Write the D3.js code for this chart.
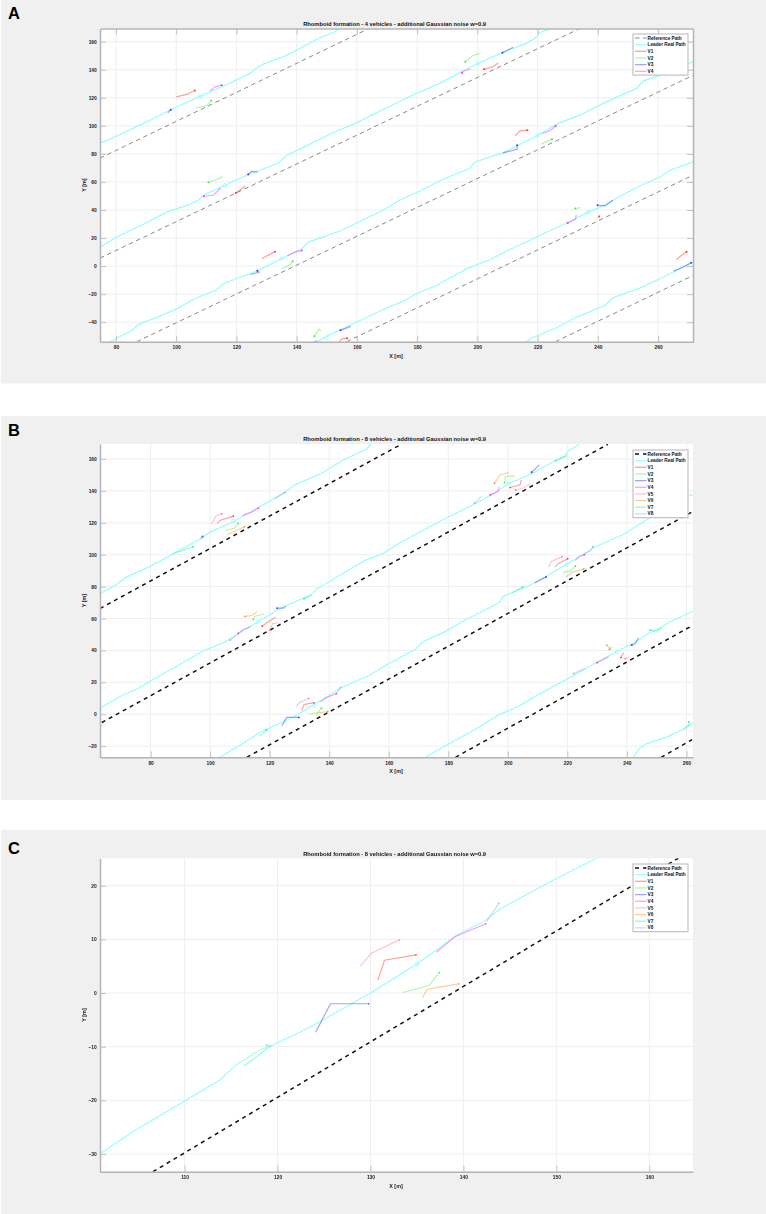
<!DOCTYPE html>
<html><head><meta charset="utf-8">
<script src="https://d3js.org/d3.v7.min.js"></script>
<style>html,body{margin:0;padding:0;background:#fff}svg{display:block;filter:blur(.3px)}text{font-family:"Liberation Sans",Arial,sans-serif}</style>
</head><body><svg id="c" width="766" height="1214"></svg>
<script>
// Panel A
const aXTicks=[80,100,120,140,160,180,200,220,240,260], aYTicks=[-40,-20,0,20,40,60,80,100,120,140,160];
const aRef=[[[74.7,77],[164,169.4]],[[74.7,5.7],[234,169.4]],[[86.9,-53.9],[271.6,136]],[[156.6,-53.9],[271.6,64.8]],[[225.9,-53.9],[271.6,-6.7]]];
const aLeader=[
[[74.7,87.4],[80.2,92.8],[90.2,102.8],[99,112.4],[107.9,121],[116.8,129.5],[124.5,137.4],[126.2,140.5],[128.9,144],[135.6,149.3],[140,154],[146.7,161.7],[152.7,167.1],[153.8,169.4]],
[[74.7,13.5],[80.2,20.7],[89.1,29.8],[96.8,38.5],[104.6,44],[107.3,46.9],[109,50.5],[116.2,57.6],[123.9,65.3],[127.8,68.3],[133.9,73.5],[136.7,79],[143.3,85.7],[152.2,95.3],[159.9,102.1],[164.4,107.1],[168.7,111.7],[179.7,123.1],[187.5,130.3],[195.3,139.3],[200.2,144.5],[208.5,152.4],[216.3,158.8],[219.1,162.4],[220.7,166.4],[224.4,169.4]],
[[78,-53.9],[85.2,-46],[87.4,-41.7],[94.6,-35.7],[100.2,-30.5],[106.8,-22.6],[113.5,-16.9],[115.7,-12.6],[119,-9.7],[126.7,-3.6],[135,5.3],[141.7,12.4],[143.9,17.1],[154.4,25],[168.7,39.8],[174.2,47],[180.9,53.5],[188.6,61.9],[197.5,69.5],[199.1,74.3],[208.5,80.7],[220.2,93.3],[226.3,101.2],[234,107.6],[241.8,116],[252.8,126.7],[255,131.9],[260.6,136.2],[271.6,145.7]],
[[146.7,-53.9],[150.5,-49.5],[154.4,-45.5],[168.7,-31],[176.4,-24],[179.7,-19.7],[186.4,-13.8],[196.4,-2],[204.1,4.5],[209.7,10.7],[219.6,20.7],[229.6,30.7],[236.8,38.5],[242.3,43.3],[245,46.9],[252.8,56],[260.6,63.5],[263.9,68.3],[271.6,74.3]],
[[216.3,-53.9],[217.9,-51.2],[220.2,-49.5],[226.3,-44],[232.9,-36.5],[242.3,-28.1],[245,-22.6],[253.9,-15.7],[260.6,-9],[271.6,2.8]]];
const aCircles=[[107.9,121],[116.2,57.6],[200.2,144.5],[220.2,93.3],[135,5.3],[150,-51],[236.8,38.5]];
// each track ends at the vehicle's head
const aV1=[[[100,120.7],[103.5,122.4],[106.2,125.2]],[[122.9,56.9],[119.8,52.1]],[[206.9,144.8],[205.2,142.1],[202.2,140.3]],[[212.6,92.8],[214,96.2],[216.6,96.9]],[[128.4,5.3],[132.8,10.3]],[[154,-53.9],[155.2,-51.7],[156.8,-51.5]],[[240.7,35.7],[240.4,35.3]],[[266.1,4.5],[267.7,7.6],[269.5,10.2]]];
const aV2=[[[106.5,112.8],[110.3,114.5],[111.6,118.1]],[[115.4,63.8],[113.5,61.7],[110.7,59.8]],[[200.8,151.7],[198.4,150],[196,145.7]],[[221,86.9],[224.8,90.5]],[[135,-1.9],[137.8,.9],[138.7,3.5]],[[148.1,-46.4],[147.4,-45],[145.9,-50]],[[234.2,41.7],[232.5,41]]];
const aV3=[[[97.2,109.3],[98.2,111.4]],[[127.2,66.9],[125,67.6],[123.9,65.3]],[[211.9,156],[208.3,152.1]],[[208.5,80.7],[213.2,83.3],[213.2,86.2]],[[124.7,-6],[127.6,-4.3],[126.9,-3.3]],[[158,-43],[154.5,-45.8]],[[245,46.9],[242.5,43.1],[239.9,43.3]],[[265.2,-3.6],[268.3,-.7],[271,2.4]]];
const aV4=[[[111.2,125],[112.9,127.8],[115.1,129]],[[114.8,55.7],[112.3,50.5],[109.2,49.8]],[[197.7,140.5],[195.3,139],[194.9,137.6]],[[221.6,94.5],[224,96.4],[226,99.9]],[[136.9,7.4],[139.5,10],[141.7,11.2]],[[147,-53],[146.1,-53.9]],[[232.8,36.7],[232.6,33.3],[230,30.7]]];
// Panel B
const bXTicks=[80,100,120,140,160,180,200,220,240,260], bYTicks=[-20,0,20,40,60,80,100,120,140,160];
const bRef=[[[63,66.3],[164.4,169.4]],[[63.6,-5.2],[233.6,169.2]],[[112.3,-27],[261.6,126.5]],[[182.4,-27],[262.2,55.8]],[[251.5,-27],[261.9,-15.9]]];
const bLeader=[
[[63,75.5],[68.6,81.3],[71.4,85.5],[79.8,92.7],[87.6,100.6],[97.2,110.5],[99.9,114],[107.8,120.8],[115.6,128.8],[124.6,138.6],[128.5,143.8],[137.4,151.1],[144.7,159.4],[152.6,166.3],[153.9,169.4]],
[[63,3.8],[69.7,11.1],[75.9,16.1],[80.4,21.3],[89.9,31.3],[97.7,39.6],[105.5,45.8],[108.9,50],[116.2,58],[122.9,65.6],[125.1,67.7],[134.1,75],[135.8,78.6],[145.8,89.6],[152.6,96.9],[158,100.6],[163.6,107.3],[178.2,121.9],[189.4,132.3],[197.2,140.6],[200,144.4],[208.4,151.1],[216.2,159.4],[219,161.5],[220.4,165.2],[224,169.2]],
[[103.3,-27],[113.4,-15.6],[116.2,-11.9],[124,-5.2],[129,-.6],[134.6,5.8],[139.7,11.4],[143.6,16.3],[153.7,24.6],[158,29.6],[169.2,41.1],[171.5,45.5],[179.3,52.1],[184.9,58.3],[192.7,65.6],[197.2,70.2],[198.3,73.6],[201.7,76.5],[206.2,79.6],[212.9,86.5],[219.6,93.8],[225.2,100],[229.6,105.2],[238.6,112.5],[247.6,123],[261,137.1],[262.2,137.5]],
[[172.4,-27],[179.3,-19.4],[188.3,-10.4],[196.7,-.6],[203.9,5.2],[208.4,10.4],[220.7,22.9],[229.6,32.3],[236.4,39.2],[242,44.4],[248.1,51.5],[251.5,54.2],[253.7,57.3],[262.2,64.6]],
[[242.2,-27],[244.2,-21.4],[246.3,-18.7],[253.2,-14.5],[258.8,-9.4],[262.2,-5.6]]];
const bCircles=[[107.8,121.3],[116,58],[200.2,144.4],[219.7,93.8],[135,5.4],[236.6,39.2]];
// Panel C (close-up of one moment)
const cXTicks=[110,120,130,140,150,160], cYTicks=[-30,-20,-10,0,10,20];
const cRef=[[[106.6,-33.3],[163.1,25.1]]];
const cLeader=[[[100.9,-30],[104.3,-26],[113.8,-16.2],[115.6,-13.3],[118.1,-10.6],[119.4,-9.8],[122.4,-7.3],[124.6,-5.3],[130,0],[135,5.4],[139.3,10.8],[142.2,13.3],[144,15.7],[149.3,20.7],[154.3,25.1]]];
const cCircles=[[135,5.4]];
const cV1=[[[130.8,2.4],[131.5,6.1],[134.9,7.1]]];
const cV2=[[[133.5,.1],[136.3,1.4],[137.4,3.8]]];
const cV3=[[[124.1,-7.3],[125.7,-2],[129.8,-2]]];
const cV4=[[[137.1,7.6],[139.1,10.5],[142.4,12.9]]];
const cV5=[[[128.9,5],[130.1,7.4],[133.1,9.9]]];
const cV6=[[[135.6,-.9],[136.1,.7],[139.5,1.7]]];
const cV7=[[[116.4,-13.6],[118.5,-10.9],[119.3,-9.8],[118.8,-9.7]]];
const cV8=[[[142.5,13.3],[143.8,16.7]]];
const bV1=[[[102.4,119.4],[103.3,121.5],[107.8,124.2]],[[122,60.8],[119,57.3],[117.5,55.2]],[[204.5,146.9],[204.1,143.8],[200.8,142.1]],[[215.9,92.3],[216.8,94.4],[220.1,97.5]],[[238.9,38.6],[238,35.5]],...cV1];
const bV2=[[[105.3,115.2],[108.3,116.7],[109.4,119.6]],[[118.2,63],[115,61.5],[114.5,59.4]],[[202.4,149.4],[199.2,149],[198.9,145.2]],[[218.5,88.6],[221.3,90.2],[222.7,93]],[[235,42.3],[234.1,40.6]],...cV2];
const bV3=[[[96.9,110],[97.5,111.5]],[[125.4,67.7],[124.6,66.5],[122.5,66.5]],[[210.6,156.3],[208,151.7]],[[209,82.3],[212.9,86.1]],[[243.9,48],[242.8,44.2],[241.6,43.3]],...cV3];
const bV4=[[[110.8,124.6],[113.9,126.7],[116.2,129.2]],[[113.6,54.8],[111.1,53.1],[109.4,50.6]],[[197.1,142.7],[196.7,139.6],[194.1,137.5]],[[222.7,96.5],[224.1,99],[225.7,100]],[[233.9,36.1],[230,32.3]],...cV4];
const bV5=[[[100.5,119.4],[102,124.4],[104,125.6]],[[122.9,57.3],[121,56.9],[120.1,52.7]],[[207.3,144.2],[205,141.7],[202.6,140.6]],[[213.7,92.1],[214.6,95.8],[218.2,98.8]],[[240.5,35.6],[239.4,34.8]],...cV5];
const bV6=[[[105.7,112.5],[111.5,117.5]],[[115.8,64.2],[113.9,61.9],[111.7,61.3]],[[200.3,151.5],[197.4,150],[195.5,144.8]],[[219.4,85.8],[221.3,88.9],[225.5,91.1]],[[234.7,40.6],[233.2,43.3]],...cV6];
const bV7=[[[87.3,100.6],[91.5,103.2],[94.3,105]],[[134.1,74.8],[131.5,72.3]],[[219.9,162.1],[216.2,159]],[[201.4,76.1],[205,79.8]],[[251.8,54.2],[249.8,52.1],[247.8,52.7]],[[259,-9.8],[260.8,-6.9],[260.8,-4.8]],...cV7];
const bV8=[[[121.8,135.2],[125.1,139]],[[108.9,49.6],[106.7,46.5]],[[191.3,136.7],[188.8,132.3]],[[225.2,100],[227.4,102.1],[228.6,105]],[[225.8,28.6],[222.1,25.5]],...cV8];

const vColors=["#ff1a1a","#22ee22","#2222ff","#ff11ff","#ff6f91","#ff8a1f","#11f08c","#8fa3e6"];
const vOpacity=[.42,.38,.42,.42,.42,.45,.42,.42];
const leaderColor="#96fdfd";
const svg=d3.select("#c");
const lineGen=(x,y)=>d3.line().x(d=>x(d[0])).y(d=>y(d[1]));

function panel(o){
  const g=svg.append("g");
  g.append("rect").attr("x",o.bg[0]).attr("y",o.bg[1]).attr("width",766-o.bg[0]).attr("height",o.bg[2]-o.bg[1]).attr("fill","#f0f0f0");
  g.append("text").attr("x",8).attr("y",o.letterY).attr("font-size",16.5).attr("font-weight",700).attr("fill","#000").text(o.letter);
  const L=100,R=693,T=o.top,B=o.bottom;
  g.append("rect").attr("x",L).attr("y",T).attr("width",R-L).attr("height",B-T).attr("fill","#fff");
  const x=d3.scaleLinear().domain(o.xd).range([L,R]), y=d3.scaleLinear().domain(o.yd).range([B,T]);
  // grid
  g.append("g").selectAll("line").data(o.xt).join("line").attr("x1",d=>x(d)).attr("x2",d=>x(d)).attr("y1",T).attr("y2",B).attr("stroke","#efefef");
  g.append("g").selectAll("line").data(o.yt).join("line").attr("y1",d=>y(d)).attr("y2",d=>y(d)).attr("x1",L).attr("x2",R).attr("stroke","#efefef");
  // clipped marks
  const id="clip"+o.letter;
  g.append("clipPath").attr("id",id).append("rect").attr("x",L).attr("y",T).attr("width",R-L).attr("height",B-T);
  const m=g.append("g").attr("clip-path",`url(#${id})`);
  const ln=lineGen(x,y);
  m.selectAll(".ref").data(o.ref).join("path").attr("d",ln).attr("fill","none").attr("stroke",o.refColor).attr("stroke-width",o.refW).attr("stroke-dasharray",o.refDash);
  m.selectAll(".lead").data(o.leader).join("path").attr("d",ln).attr("fill","none").attr("stroke",leaderColor).attr("stroke-width",o.leadW);
  o.tracks.forEach((tr,i)=>{
    const t=m.append("g");
    t.selectAll("path").data(tr).join("path").attr("d",ln).attr("fill","none").attr("stroke",vColors[i]).attr("stroke-opacity",vOpacity[i]).attr("stroke-width",o.trackW);
    t.selectAll("circle").data(tr).join("circle").attr("cx",d=>x(d[d.length-1][0])).attr("cy",d=>y(d[d.length-1][1])).attr("r",o.dot).attr("fill",vColors[i]).attr("fill-opacity",.85);
  });
  m.selectAll(".lc").data(o.circles).join("circle").attr("cx",d=>x(d[0])).attr("cy",d=>y(d[1])).attr("r",1.7).attr("fill","none").attr("stroke",leaderColor).attr("stroke-width",.9);
  // axes
  const style=a=>{a.select(".domain").attr("stroke","#b4b4b4").attr("stroke-width",1.5);a.selectAll(".tick line").attr("stroke","#bbb").attr("stroke-width",.9);
    a.selectAll("text").attr("font-size",4.9).attr("font-weight",700).attr("fill","#222").attr("font-family","'Liberation Sans',Arial,sans-serif");};
  const ax=g.append("g").attr("transform",`translate(0,${B})`).call(d3.axisBottom(x).tickValues(o.xt).tickFormat(d3.format("d")).tickSizeInner(-6).tickSizeOuter(0)).call(style);
  ax.selectAll("text").attr("y",6).attr("dy","0.32em");
  const ay=g.append("g").attr("transform",`translate(${L},0)`).call(d3.axisLeft(y).tickValues(o.yt).tickFormat(d3.format("d")).tickSizeInner(-6).tickSizeOuter(0)).call(style);
  ay.selectAll("text").attr("x",-3.2);
  if(o.box){
    g.append("g").attr("transform",`translate(0,${T})`).call(d3.axisTop(x).tickValues(o.xt).tickFormat("").tickSizeInner(-6).tickSizeOuter(0)).call(style);
    g.append("g").attr("transform",`translate(${R},0)`).call(d3.axisRight(y).tickValues(o.yt).tickFormat("").tickSizeInner(-6).tickSizeOuter(0)).call(style);
  }
  g.append("text").attr("x",394.6).attr("y",T-2.6).attr("text-anchor","middle").attr("font-size",5.75).attr("font-weight",700).attr("fill","#111").text(o.title);
  g.append("text").attr("x",396).attr("y",B+16).attr("text-anchor","middle").attr("font-size",5.4).attr("font-weight",700).attr("fill","#222").text("X [m]");
  g.append("text").attr("transform",`translate(85.5,${(T+B)/2}) rotate(-90)`).attr("text-anchor","middle").attr("font-size",5.4).attr("font-weight",700).attr("fill","#222").text("Y [m]");
  // legend
  const names=["Reference Path","Leader Real Path"].concat(o.tracks.map((d,i)=>"V"+(i+1)));
  const lg=g.append("g");
  const rowH=6.65, h=names.length*rowH+1.2;
  lg.append("rect").attr("x",633).attr("y",o.legY).attr("width",55).attr("height",h).attr("fill","#fff").attr("stroke","#bdbdbd").attr("stroke-width",1.1);
  names.forEach((n,i)=>{
    const yy=o.legY+4+i*rowH;
    const l=lg.append("line").attr("x1",635).attr("x2",646.5).attr("y1",yy).attr("y2",yy);
    if(i===0) l.attr("stroke",o.refColor).attr("stroke-width",o.refW).attr("stroke-dasharray",o.refDash);
    else if(i===1) l.attr("stroke",leaderColor).attr("stroke-width",o.leadW);
    else l.attr("stroke",vColors[i-2]).attr("stroke-opacity",vOpacity[i-2]).attr("stroke-width",1.3);
    lg.append("text").attr("x",647.6).attr("y",yy+1.6).attr("font-size",4.7).attr("font-weight",700).attr("fill","#111").text(n);
  });
}
panel({letter:"A",letterY:19.3,bg:[1,0,383.5],top:28.5,bottom:341.7,xd:[74.7,271.6],yd:[-53.9,169.4],xt:aXTicks,yt:aYTicks,box:true,
  ref:aRef,refColor:"#8a8a8a",refW:1,refDash:"4.5 3.5",leader:aLeader,leadW:1.2,circles:aCircles,tracks:[aV1,aV2,aV3,aV4],trackW:1.2,dot:1,legY:34,
  title:"Rhomboid formation - 4 vehicles - additional Gaussian noise w=0.9"});
panel({letter:"B",letterY:435.7,bg:[1,416,800],top:444,bottom:757.3,xd:[63,262.2],yd:[-27,169.4],xt:bXTicks,yt:bYTicks,box:false,
  ref:bRef,refColor:"#111",refW:1.5,refDash:"4 4",leader:bLeader,leadW:1.2,circles:bCircles,tracks:[bV1,bV2,bV3,bV4,bV5,bV6,bV7,bV8],trackW:1.15,dot:.9,legY:450,
  title:"Rhomboid formation - 8 vehicles - additional Gaussian noise w=0.9"});
panel({letter:"C",letterY:854.3,bg:[1,830,1214],top:858.3,bottom:1171.7,xd:[100.9,164.7],yd:[-33.3,25.1],xt:cXTicks,yt:cYTicks,box:false,
  ref:cRef,refColor:"#111",refW:1.5,refDash:"4 4",leader:cLeader,leadW:1.1,circles:cCircles,tracks:[cV1,cV2,cV3,cV4,cV5,cV6,cV7,cV8],trackW:1.15,dot:.8,legY:864,
  title:"Rhomboid formation - 8 vehicles - additional Gaussian noise w=0.9"});
</script></body></html>
